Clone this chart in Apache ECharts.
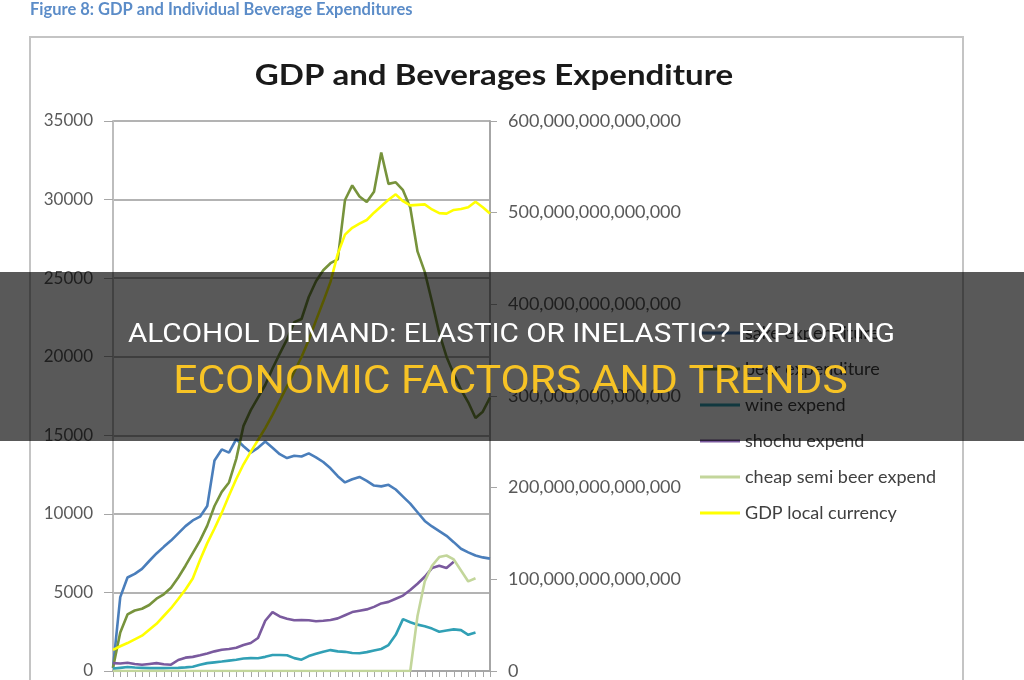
<!DOCTYPE html>
<html lang="en">
<head>
<meta charset="UTF-8">
<title>GDP and Beverages Expenditure</title>
<script src="https://cdn.jsdelivr.net/npm/echarts@6/dist/echarts.min.js"></script>
<style>
  html, body { margin: 0; padding: 0; background: #fff; }
  #chart { width: 1024px; height: 680px; }
</style>
</head>
<body>
<div id="chart"></div>
<script>
// periods on the category axis (labels are cut off in the picture)
var periods = ['1','2','3','4','5','6','7','8','9','10','11','12','13','14','15','16','17','18','19','20',
  '21','22','23','24','25','26','27','28','29','30','31','32','33','34','35','36','37','38','39','40',
  '41','42','43','44','45','46','47','48','49','50','51','52','53'];

var sakeExp = [200,4700,5950,6180,6500,7000,7480,7900,8300,8760,9220,9580,9820,10500,13400,14100,13900,14750,14300,13900,
  14200,14600,14200,13800,13550,13700,13650,13850,13600,13300,12900,12400,12000,12200,12350,12100,11800,11750,11850,11550,
  11100,10650,10100,9550,9200,8900,8600,8200,7780,7550,7350,7230,7150];

var beerExp = [200,2450,3600,3850,3960,4200,4600,4880,5300,5950,6700,7500,8300,9250,10500,11400,12000,13500,15600,16600,
  17400,18200,19250,20200,21100,22200,22400,23800,24800,25500,25950,26200,29970,30900,30200,29850,30500,33000,31000,31100,
  30600,29500,26700,25400,23500,21500,20000,18900,17900,17100,16100,16500,17400];

var wineExp = [150,200,250,220,200,180,180,180,190,200,230,270,400,500,550,600,660,720,800,820,
  810,900,1020,1020,1000,820,720,950,1100,1230,1330,1250,1220,1150,1130,1200,1300,1400,1650,2300,
  3300,3100,2950,2850,2700,2500,2580,2650,2600,2300,2450,null,null];

var shochuExp = [500,480,520,450,400,450,500,430,400,700,850,900,1000,1120,1250,1350,1400,1480,1650,1780,
  2100,3200,3750,3470,3330,3230,3250,3230,3170,3200,3250,3350,3550,3750,3840,3920,4080,4300,4400,4600,
  4800,5150,5550,6000,6550,6700,6550,6950,null,null,null,null,null];

var semiBeerExp = [0,0,0,0,0,0,0,0,0,0,0,0,0,0,0,0,0,0,0,0,
  0,0,0,0,0,0,0,0,0,0,0,0,0,0,0,0,0,0,0,0,
  0,0,3500,5700,6700,7250,7350,7100,6400,5700,5900,null,null];

// GDP in trillions of local currency (right axis)
var gdpTrillion = [23,27,30.5,34.5,38.5,45,51.5,60,68.5,78.5,89,101,121,139.5,155.5,172.5,191.5,209.5,225.5,239,
  252,265,279.5,295,310.5,326.5,342.5,361,382.5,403,424.5,455,476,483.5,488,492,500,507,514,520,
  512.5,508,508.5,509,503.5,499.5,499,503,504,506,512,506,499];

var leftTicks = { min: 0, max: 35000, step: 5000 };
var rightTicks = { min: 0, max: 600e12, step: 100e12 };

var chart = echarts.init(document.getElementById('chart'));

function line(name, data, color, axis) {
    return {
        name: name,
        type: 'line',
        yAxisIndex: axis || 0,
        data: data,
        showSymbol: false,
        symbol: 'none',
        lineStyle: { color: color, width: 2.6 },
        itemStyle: { color: color },
        emphasis: { disabled: true }
    };
}

var option = {
    animation: false,
    grid: { left: 113, right: 534, top: 121, bottom: 9 },
    legend: {
        orient: 'vertical',
        left: 700,
        top: 324,
        padding: 0,
        icon: 'rect',
        itemWidth: 40,
        itemHeight: 3,
        itemGap: 18,
        textStyle: { fontSize: 18, lineHeight: 18, color: '#404040', fontFamily: 'Lato' },
        data: ['sake expenditure', 'beer expenditure', 'wine expend', 'shochu expend', 'cheap semi beer expend', 'GDP local currency']
    },
    xAxis: {
        type: 'category',
        data: periods,
        boundaryGap: false,
        axisLine: { lineStyle: { color: '#a6a6a6', width: 2 } },
        axisTick: { show: true, interval: 0, length: 6, lineStyle: { color: '#a6a6a6' } },
        axisLabel: { show: false },
        splitLine: { show: false }
    },
    yAxis: [{
        type: 'value',
        min: leftTicks.min,
        max: leftTicks.max,
        interval: leftTicks.step,
        axisLine: { show: true, lineStyle: { color: '#bdbdbd', width: 2 } },
        axisTick: { show: true, length: 9, lineStyle: { color: '#a6a6a6' } },
        axisLabel: {
            color: '#595959', fontSize: 17, margin: 20, fontFamily: 'Lato',
            formatter: function (v) { return String(v); }
        },
        splitLine: { lineStyle: { color: '#9a9a9a', width: 1.5 } }
    }, {
        type: 'value',
        position: 'right',
        min: rightTicks.min,
        max: rightTicks.max,
        interval: rightTicks.step,
        axisLine: { show: true, lineStyle: { color: '#a6a6a6', width: 2 } },
        axisTick: { show: true, length: 7, lineStyle: { color: '#a6a6a6' } },
        axisLabel: {
            color: '#595959', fontSize: 18, margin: 18, fontFamily: 'Lato',
            formatter: function (v) { return v.toLocaleString('en-US'); }
        },
        splitLine: { show: false }
    }],
    series: [
        line('sake expenditure', sakeExp, '#4a7ebb'),
        line('beer expenditure', beerExp, '#77933c'),
        line('wine expend', wineExp, '#31a0b5'),
        line('shochu expend', shochuExp, '#7a5a9e'),
        line('cheap semi beer expend', semiBeerExp, '#c3d69b'),
        line('GDP local currency', gdpTrillion.map(function (t) { return t * 1e12; }), '#ffff00', 1)
    ],
    graphic: [{
        type: 'text', silent: true, x: 30, y: 1,
        style: { text: 'Figure 8: GDP and Individual Beverage Expenditures', fill: '#5b8cc8',
                 font: 'bold 16.5px Lato' }
    }, {
        type: 'rect', silent: true, z: 0,
        shape: { x: 30, y: 37, width: 933, height: 680 },
        style: { fill: 'none', stroke: '#c4c4c4', lineWidth: 2 }
    }, {
        type: 'text', silent: true, x: 494, y: 76, scaleX: 1.14,
        style: { text: 'GDP and Beverages Expenditure', fill: '#1a1a1a',
                 font: 'bold 29px Lato',
                 textAlign: 'center', textVerticalAlign: 'middle', align: 'center', verticalAlign: 'middle' }
    }, {
        // dark band laid over the picture
        type: 'rect', silent: true, z: 100,
        shape: { x: 0, y: 272, width: 1024, height: 169 },
        style: { fill: 'rgba(0,0,0,0.65)' }
    }, {
        type: 'text', silent: true, z: 101, x: 511.5, y: 335, scaleX: 1.14,
        style: { text: 'ALCOHOL DEMAND: ELASTIC OR INELASTIC? EXPLORING', fill: '#ffffff',
                 font: '26px Roboto',
                 textAlign: 'center', textVerticalAlign: 'middle', align: 'center', verticalAlign: 'middle' }
    }, {
        type: 'text', silent: true, z: 101, x: 510.5, y: 383, scaleX: 1.12,
        style: { text: 'ECONOMIC FACTORS AND TRENDS', fill: '#f7c325',
                 font: '38px Roboto',
                 textAlign: 'center', textVerticalAlign: 'middle', align: 'center', verticalAlign: 'middle' }
    }]
};

chart.setOption(option);
</script>
</body>
</html>
